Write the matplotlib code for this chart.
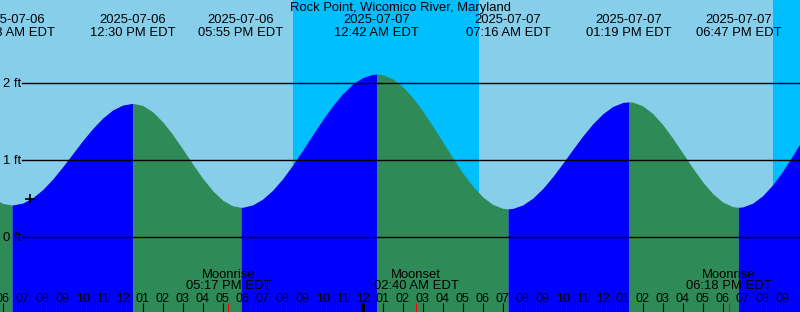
import matplotlib
matplotlib.use("Agg")
import matplotlib.pyplot as plt
import matplotlib.transforms as mtransforms
import numpy as np
import pandas as pd

plt.rcParams['font.family'] = ['Liberation Sans', 'DejaVu Sans']

title = "Rock Point, Wicomico River, Maryland"
day0 = pd.Timestamp("2025-07-06 00:00")

# tide extremes (EDT)
tide_times = ["2025-07-06 06:28", "2025-07-06 12:30", "2025-07-06 17:55",
              "2025-07-07 00:42", "2025-07-07 07:16", "2025-07-07 13:19",
              "2025-07-07 18:47"]
tide_kind = ["L", "H", "L", "H", "L", "H", "L"]
tide_ft = [0.42, 1.74, 0.39, 2.12, 0.37, 1.76, 0.39]

# tide height every half hour, 05:30 Jul 6 .. 22:00 Jul 7
curve_ft = [0.51, 0.44, 0.42, 0.445, 0.514, 0.620, 0.757, 0.916, 1.086, 1.256,
            1.413, 1.549, 1.654, 1.718, 1.74,
            1.712, 1.630, 1.500, 1.334, 1.146, 0.951, 0.766, 0.605, 0.482, 0.409, 0.39,
            0.421, 0.497, 0.612, 0.762, 0.939, 1.132, 1.332, 1.527, 1.708, 1.866,
            1.991, 2.075, 2.116,
            2.111, 2.057, 1.956, 1.815, 1.642, 1.445, 1.238, 1.031, 0.836, 0.664,
            0.525, 0.428, 0.377,
            0.375, 0.420, 0.508, 0.633, 0.787, 0.960, 1.140, 1.315, 1.473, 1.604,
            1.699, 1.751, 1.756,
            1.708, 1.608, 1.464, 1.288, 1.095, 0.900, 0.720, 0.567, 0.458, 0.399,
            0.395, 0.443, 0.541, 0.683, 0.859, 1.062, 1.277]
curve_start = "2025-07-06 05:30"

# current position marker
now_time = "2025-07-06 07:22"
now_ft = 0.50

moon_names = ["Moonrise", "Moonset", "Moonrise"]
moon_times = ["2025-07-06 17:17", "2025-07-07 02:40", "2025-07-07 18:18"]

sunset_times = ["2025-07-06 20:31", "2025-07-07 20:31"]
sunrise_times = ["2025-07-07 05:49"]

grid_ft = [0, 1, 2]


def hrs(s):
    return (pd.Timestamp(s) - day0) / pd.Timedelta(hours=1)


def ampm(s):
    return pd.Timestamp(s).strftime("%I:%M %p") + " EDT"


x0, x1 = 5.865, 45.865
y0, y1 = -0.970, 3.082
fs = 9.4

fig = plt.figure(figsize=(8, 3.12), dpi=100)
ax = fig.add_axes([0, 0, 1, 1])
ax.set_xlim(x0, x1)
ax.set_ylim(y0, y1)
ax.axis('off')
ax.add_patch(plt.Rectangle((x0, y0), x1 - x0, y1 - y0, color='#87CEEB', zorder=0))

# night
ax.axvspan(hrs(sunset_times[0]), hrs(sunrise_times[0]), color='#00BFFF', lw=0, zorder=1)
ax.axvspan(hrs(sunset_times[1]), x1 + 1, color='#00BFFF', lw=0, zorder=1)

# tide fill
t_s = hrs(curve_start) + 0.5 * np.arange(len(curve_ft))
t_e = np.array([hrs(s) for s in tide_times])
t_all = np.concatenate([t_s, t_e])
h_all = np.concatenate([curve_ft, tide_ft])
order = np.argsort(t_all, kind='stable')
t_all, h_all = t_all[order], h_all[order]
keep = np.concatenate([[True], np.diff(t_all) > 1e-6])
t_all, h_all = t_all[keep], h_all[keep]

bounds = [t_all[0]] + list(t_e) + [t_all[-1]]
kinds = list(tide_kind) + ["H" if tide_kind[-1] == "L" else "L"]
for i in range(len(bounds) - 1):
    a, b = bounds[i], bounds[i + 1]
    m = (t_all >= a - 1e-6) & (t_all <= b + 1e-6)
    col = '#0000FF' if kinds[i] == "H" else '#2E8B57'
    ax.fill_between(t_all[m], y0, h_all[m], color=col, lw=0, zorder=2)

# grid lines + labels
lt = mtransforms.blended_transform_factory(ax.transAxes, ax.transData)
for g in grid_ft:
    ax.axhline(g, xmin=22 / 800, xmax=1, color='black', lw=1, zorder=3)
    ax.text(3 / 800, g - 0.054, f"{g} ft", transform=lt,
            ha='left', va='baseline', fontsize=fs, zorder=4)

ax.plot([hrs(now_time)], [now_ft], marker='+', color='black', ms=7, mew=1.2, zorder=5)

bt = mtransforms.blended_transform_factory(ax.transData, ax.transAxes)

ax.text(0.5, 1 - 10.5 / 312, title, transform=ax.transAxes, ha='center', va='baseline', fontsize=fs)
for s in tide_times:
    x = hrs(s)
    ax.text(x, 1 - 23.3 / 312, s[:10], transform=bt, ha='center', va='baseline', fontsize=fs)
    ax.text(x, 1 - 36 / 312, ampm(s), transform=bt, ha='center', va='baseline', fontsize=fs)

# hour ticks
for hr in range(6, 46):
    lab = f"{(hr - 1) % 12 + 1:02d}"
    ax.text(hr, 1 - 301.7 / 312, lab, transform=bt, ha='center', va='baseline', fontsize=9)
    lw = 2.2 if hr % 24 == 0 else 0.8
    ax.plot([hr, hr], [0, 9 / 312], transform=bt, color='black', lw=lw, solid_capstyle='butt')

for name, s in zip(moon_names, moon_times):
    x = hrs(s)
    ax.text(x, 1 - 278.3 / 312, name, transform=bt, ha='center', va='baseline', fontsize=fs)
    ax.text(x, 1 - 289.3 / 312, ampm(s), transform=bt, ha='center', va='baseline', fontsize=fs)
    ax.plot([x, x], [0, 9.5 / 312], transform=bt, color='red', lw=0.8, solid_capstyle='butt')

fig.savefig("out.png", dpi=100)
